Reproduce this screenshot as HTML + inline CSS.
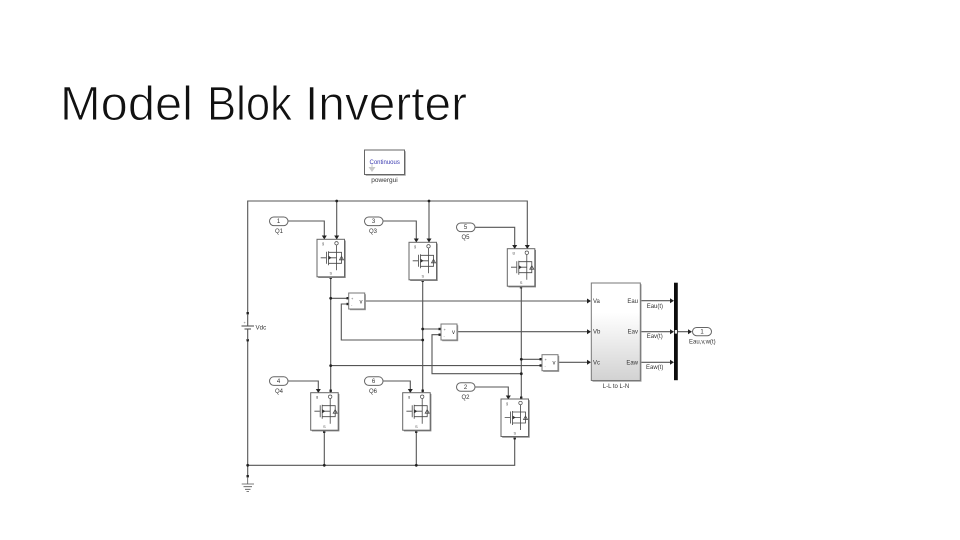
<!DOCTYPE html>
<html>
<head>
<meta charset="utf-8">
<style>
html,body{margin:0;padding:0;background:#fff;width:960px;height:540px;overflow:hidden}
svg{display:block}
.w{fill:none;stroke:#555;stroke-width:1.1}
.p{font-family:"Liberation Sans",sans-serif;font-size:6px;fill:#333}
.s{font-family:"Liberation Sans",sans-serif;font-size:4px;fill:#555}
.h{font-family:"Liberation Sans",sans-serif;font-size:48px;fill:#111;stroke:#fff;stroke-width:0.9px;paint-order:fill stroke}
</style>
</head>
<body>
<svg width="960" height="540" viewBox="0 0 960 540" xmlns="http://www.w3.org/2000/svg">
<defs>
<filter id="b" x="-5%" y="-5%" width="110%" height="110%"><feGaussianBlur stdDeviation="0.38"/></filter>
<linearGradient id="g" x1="0" y1="0" x2="0" y2="1"><stop offset="0.3" stop-color="#fff"/><stop offset="1" stop-color="#d2d2d2"/></linearGradient>
<g id="mos">
<rect x="1.2" y="1.2" width="27.5" height="37.5" fill="#888"/>
<rect x="0" y="0" width="27.5" height="37.5" fill="#fff" stroke="#666"/>
<path d="M3.7 18.5H9M9.5 12.5V24.5M11.5 12V26M11.5 13H19.5M11.5 24H19.5M19.5 6V31M19.5 13H24.5V24H19.5M11.5 18.5H19.5" fill="none" stroke="#444" stroke-width="0.8"/>
<path d="M11.5 16.5V20.5L14.5 18.5Z" fill="#333"/>
<path d="M22.5 20.5H26.5L24.5 17Z" fill="none" stroke="#444" stroke-width="0.8"/>
<circle cx="19.5" cy="4" r="1.7" fill="none" stroke="#444" stroke-width="0.7"/>
</g>
<g id="vm">
<rect x="1.2" y="1.2" width="16" height="16" fill="#999"/>
<rect x="0" y="0" width="16" height="16" fill="#fff" stroke="#777"/>
</g>
</defs>

<text class="h" x="60" y="120" textLength="133" lengthAdjust="spacingAndGlyphs">Model</text>
<text class="h" x="207" y="120" textLength="85" lengthAdjust="spacingAndGlyphs">Blok</text>
<text class="h" x="305" y="120" textLength="162" lengthAdjust="spacingAndGlyphs">Inverter</text>

<g filter="url(#b)">
<!-- powergui -->
<rect x="365.7" y="151.2" width="40" height="24.5" fill="#999"/>
<rect x="364.5" y="150" width="40" height="24.5" fill="#fff" stroke="#666"/>
<text x="369.5" y="164" font-family="'Liberation Sans',sans-serif" font-size="6" fill="#3a3ab0">Continuous</text>
<path d="M368.5 167h3v-3h1v3h3l-3.5 5z" fill="#c8c8c8"/>
<text x="384.5" y="182" text-anchor="middle" class="p" style="font-size:6.5px">powergui</text>

<!-- main wires -->
<path class="w" d="M247.7 313V201H527.3V248M247.7 340V476M247.7 465.3H514.7V437M336.7 201V239M429 201V242"/>
<path class="w" d="M288 221H324.3V236M383 221H416.3V239M475 227.3H514.7V246M288 381H318.3V390M383 381H410.3V390M475 387H508.3V396"/>
<path class="w" d="M330.7 277V392.7M422.7 279.5V392.7M521.3 286V399M324.3 430.5V465.3M416.3 430.5V465.3"/>
<path class="w" d="M330.7 298.3H348.7M348 304H341.3V340H422.7M422.7 329H440.7M440 334.7H432V373.7H521.3M521.3 359.3H542M330.7 365.6H541"/>
<path class="w" d="M364.7 301H588M457 331.7H588M558 362.3H588"/>
<path class="w" d="M640.3 300.7H671M640.3 331.7H671M640.3 362.3H671M678 331.7H689"/>

<!-- junctions -->
<g fill="#222">
<circle cx="336.7" cy="201" r="1.4"/><circle cx="429" cy="201" r="1.4"/>
<circle cx="330.7" cy="298.3" r="1.4"/><circle cx="422.7" cy="329" r="1.4"/>
<circle cx="422.7" cy="340" r="1.4"/><circle cx="330.7" cy="365.6" r="1.4"/>
<circle cx="521.3" cy="359.3" r="1.4"/><circle cx="521.3" cy="373.7" r="1.4"/>
<circle cx="247.7" cy="465.3" r="1.4"/><circle cx="324.3" cy="465.3" r="1.4"/><circle cx="416.3" cy="465.3" r="1.4"/>
<!-- port squares -->
<rect x="329.5" y="276.5" width="2.4" height="2.4"/><rect x="421.5" y="279.5" width="2.4" height="2.4"/><rect x="519.8" y="286" width="2.4" height="2.4"/>
<rect x="329.5" y="389.5" width="2.4" height="2.4"/><rect x="421.5" y="389.5" width="2.4" height="2.4"/><rect x="520" y="396.5" width="2.4" height="2.4"/>
<rect x="323" y="430.5" width="2.4" height="2.4"/><rect x="415" y="430.5" width="2.4" height="2.4"/><rect x="513.5" y="437" width="2.4" height="2.4"/>
<rect x="246.5" y="312" width="2.4" height="2.4"/><rect x="246.5" y="339" width="2.4" height="2.4"/><rect x="246.5" y="475" width="2.4" height="2.4"/>
<rect x="346.5" y="297" width="2.4" height="2.4"/><rect x="346.5" y="302.8" width="2.4" height="2.4"/>
<rect x="438.5" y="327.8" width="2.4" height="2.4"/><rect x="438.5" y="333.5" width="2.4" height="2.4"/>
<rect x="539.5" y="358" width="2.4" height="2.4"/><rect x="539.5" y="364.3" width="2.4" height="2.4"/>
<!-- arrowheads -->
<path d="M321.8 235.5H326.8L324.3 239.5Z"/><path d="M334.2 235.5H339.2L336.7 239.5Z"/>
<path d="M413.8 238.5H418.8L416.3 242.5Z"/><path d="M426.5 238.5H431.5L429 242.5Z"/>
<path d="M512.2 245H517.2L514.7 249Z"/><path d="M524.8 245H529.8L527.3 249Z"/>
<path d="M315.8 389H320.8L318.3 393Z"/><path d="M407.8 389H412.8L410.3 393Z"/><path d="M505.8 395.5H510.8L508.3 399.5Z"/>
<path d="M587 298.5V303.5L591 301Z"/><path d="M587 329.2V334.2L591 331.7Z"/><path d="M587 359.8V364.8L591 362.3Z"/>
<path d="M670 298.2V303.2L674 300.7Z"/><path d="M670 329.2V334.2L674 331.7Z"/><path d="M670 359.8V364.8L674 362.3Z"/>
<path d="M688 329.2V334.2L692 331.7Z"/>
</g>

<!-- MOSFETs -->
<use href="#mos" x="317" y="239.3"/>
<use href="#mos" x="409" y="242.3"/>
<use href="#mos" x="507.3" y="248.7"/>
<use href="#mos" x="310.7" y="392.7"/>
<use href="#mos" x="402.7" y="392.7"/>
<use href="#mos" x="501" y="399"/>
<text class="s" x="322" y="244.5">g</text><text class="s" x="329.5" y="274.5">S</text>
<text class="s" x="414" y="247.5">g</text><text class="s" x="421.5" y="277.5">S</text>
<text class="s" x="512.5" y="254">g</text><text class="s" x="519.8" y="284">S</text>
<text class="s" x="316" y="398">g</text><text class="s" x="323" y="428">S</text>
<text class="s" x="408" y="398">g</text><text class="s" x="415" y="428">S</text>
<text class="s" x="506" y="404.5">g</text><text class="s" x="513.5" y="434.5">S</text>

<!-- Voltage measurements -->
<use href="#vm" x="348.7" y="293"/>
<use href="#vm" x="441" y="324"/>
<use href="#vm" x="542" y="354.7"/>
<text class="s" x="351" y="300">+</text><text class="s" x="351" y="306">-</text>
<text class="s" x="443.5" y="331">+</text><text class="s" x="443.5" y="337">-</text>
<text class="s" x="544.5" y="361">+</text><text class="s" x="544.5" y="367">-</text>
<text class="p" x="359.5" y="303.5">v</text><text class="p" x="452" y="334">v</text><text class="p" x="552.5" y="364.5">v</text>

<!-- Inports -->
<g fill="#fff" stroke="#666">
<rect x="269.5" y="217" width="18.5" height="8.6" rx="4.3"/>
<rect x="364.5" y="217" width="18.5" height="8.6" rx="4.3"/>
<rect x="456.5" y="223" width="18.5" height="8.6" rx="4.3"/>
<rect x="269.5" y="376.8" width="18.5" height="8.6" rx="4.3"/>
<rect x="364.5" y="376.8" width="18.5" height="8.6" rx="4.3"/>
<rect x="456.5" y="382.7" width="18.5" height="8.6" rx="4.3"/>
<rect x="692.5" y="327.5" width="19" height="8.2" rx="4.1"/>
</g>
<g text-anchor="middle" class="p">
<text x="278.5" y="223.2">1</text><text x="279" y="233">Q1</text>
<text x="373.5" y="223.2">3</text><text x="373" y="233">Q3</text>
<text x="465.5" y="229.2">5</text><text x="465.5" y="239">Q5</text>
<text x="278.5" y="383">4</text><text x="279" y="393">Q4</text>
<text x="373.5" y="383">6</text><text x="373" y="393">Q6</text>
<text x="465.5" y="389">2</text><text x="465.5" y="399">Q2</text>
<text x="702" y="333.7">1</text><text x="702.3" y="343.7">Eau,v,w(t)</text>
</g>

<!-- Vdc -->
<path d="M241.5 326H254M244.5 329H251" stroke="#444" stroke-width="1" fill="none"/>
<path class="w" d="M247.7 314V326M247.7 329V340"/>
<text class="s" x="243.5" y="324">+</text>
<text class="p" x="255.5" y="329.5" style="font-size:6.2px">Vdc</text>

<!-- Ground -->
<path d="M247.7 477V484M241.7 484H254M243.5 486.7H252M245 489.3H250.5M246.5 491.5H249" stroke="#555" stroke-width="0.8" fill="none"/>

<!-- L-L to L-N -->
<rect x="592.5" y="284.2" width="49" height="97.5" fill="#999"/>
<rect x="591.3" y="283" width="49" height="97.5" fill="url(#g)" stroke="#777"/>
<text class="p" x="593" y="302.8">Va</text><text class="p" x="593" y="333.7">Vb</text><text class="p" x="593" y="364.3">Vc</text>
<g text-anchor="end" class="p">
<text x="638" y="302.8">Eau</text><text x="638" y="333.7">Eav</text><text x="638" y="364.3">Eaw</text>
</g>
<text class="p" x="616" y="388" text-anchor="middle">L-L to L-N</text>
<text class="p" x="646.7" y="308">Eau(t)</text><text class="p" x="646.7" y="338">Eav(t)</text><text class="p" x="646" y="369">Eaw(t)</text>

<!-- Bus -->
<rect x="674" y="282.7" width="3.8" height="97.5" fill="#111"/>
<rect x="674.8" y="330" width="2.2" height="3.6" fill="#eee"/>
</g>
</svg>
</body>
</html>
